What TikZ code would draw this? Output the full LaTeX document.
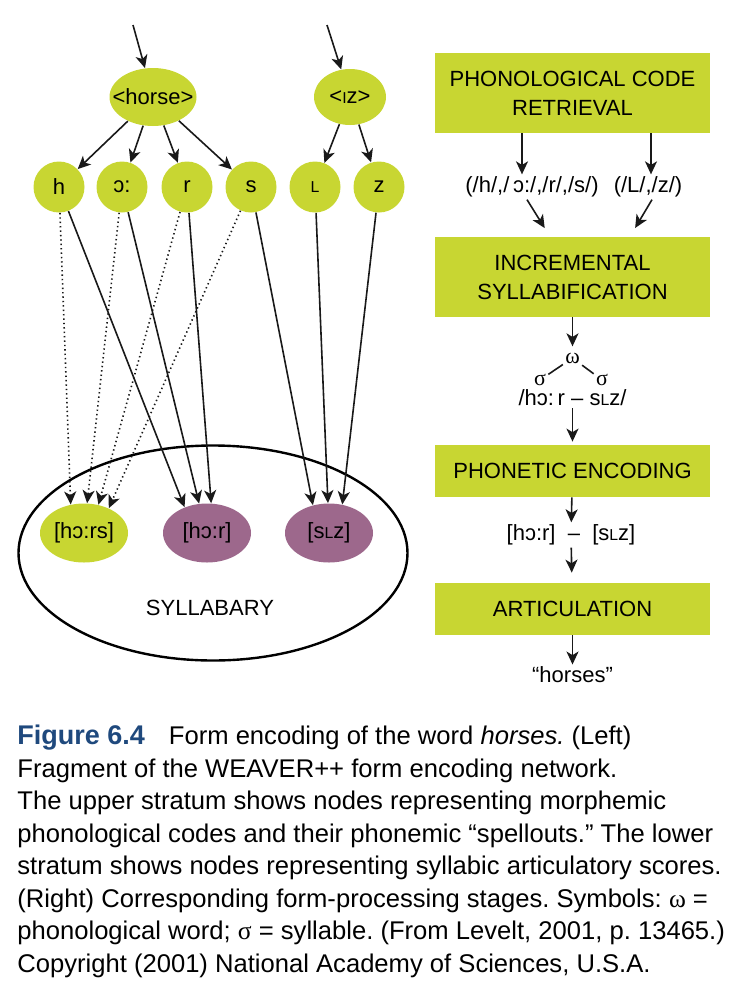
\documentclass[tikz,border=0pt]{standalone}
\usepackage{fontspec}
\setmainfont{Liberation Sans}
\newfontfamily\serifgreek{Liberation Serif}
\usepackage{xcolor}
\usepackage{tikz}
\usetikzlibrary{arrows.meta, positioning, shapes.geometric}

\definecolor{leaf}{RGB}{200,214,50}
\definecolor{plum}{RGB}{157,104,140}
\definecolor{capblue}{RGB}{31,73,125}
\newcommand{\minicap}[1]{{\fontsize{7.9pt}{8pt}\selectfont #1}}
\newcommand{\ovaltext}[1]{\makebox[0pt]{#1}}

\begin{document}
\begin{tikzpicture}[
    x=0.5pt, y=-0.5pt,
    every node/.style={font=\fontsize{11pt}{14.5pt}\selectfont},
    morph/.style={ellipse, fill=leaf, minimum width=43.5pt, minimum height=29pt, inner sep=0pt},
    phon/.style={circle, fill=leaf, minimum size=25.5pt, inner sep=0pt},
    syll/.style={ellipse, minimum width=44pt, minimum height=29.5pt, inner sep=0pt},
    stage/.style={rectangle, fill=leaf, minimum width=137.5pt, minimum height=40pt, align=center, inner sep=0pt},
    word/.style={inner sep=1pt},
    link/.style={-{Stealth[length=6.5pt, width=6pt, inset=1.8pt]}, line width=0.8pt, black!90},
    dotlink/.style={link, dash pattern=on 0.7pt off 1.5pt},
]
\useasboundingbox (0,0) rectangle (730,986);

% Morpheme nodes
\node[morph] (horse) at (153,97) {\ovaltext{<horse>}};
\node[morph, minimum width=36pt, minimum height=28pt] (iz) at (350,97) {\ovaltext{<\minicap{I}z>}};
\coordinate (horsein) at (133,25);
\coordinate (izin) at (327,25);
\draw[link] (horsein) -- (horse);
\draw[link] (izin) -- (iz);

% Phoneme nodes
\node[phon] (h) at (59,187) {h};
\node[phon] (o) at (122,187) {ɔ:};
\node[phon] (r) at (187,187) {r};
\node[phon] (s) at (251,187) {s};
\node[phon] (l) at (315,187) {\minicap{L}};
\node[phon] (z) at (379,187) {z};

\draw[link] (horse) -- (h);
\draw[link] (horse) -- (o);
\draw[link] (horse) -- (r);
\draw[link] (horse) -- (s);
\draw[link] (iz) -- (l);
\draw[link] (iz) -- (z);

% Syllabary
\node[draw, ellipse, line width=1.2pt, minimum width=194.5pt, minimum height=107.5pt] (syllabary) at (213,553) {};
\node (syllabel) at (210,608) {SYLLABARY};
\node[syll, fill=leaf] (hors) at (84,533) {\ovaltext{[hɔ:rs]}};
\node[syll, fill=plum] (hor) at (207,533) {\ovaltext{[hɔ:r]}};
\node[syll, fill=plum] (slz) at (329,533) {\ovaltext{[s\minicap{L}z]}};

% Phonemes to syllable scores
\draw[dotlink] (h) -- (hors.115);
\draw[dotlink] (o) -- (hors.84);
\draw[dotlink] (r) -- (hors.63);
\draw[dotlink] (s) -- (hors.45);
\draw[link] (h) -- (hor.131);
\draw[link] (o) -- (hor.105);
\draw[link] (r) -- (hor.82);
\draw[link] (s) -- (slz.120);
\draw[link] (l) -- (slz.92);
\draw[link] (z) -- (slz.65);

% Processing stages
\node[stage] (retrieval) at (572.5,93) {PHONOLOGICAL CODE\\RETRIEVAL};
\node[word] (codeH) at (532,187) {(/h/,/\,ɔ:/,/r/,/s/)};
\node[word] (codeL) at (648,187) {(/L/,/z/)};
\node[stage] (incremental) at (572.5,277) {INCREMENTAL\\SYLLABIFICATION};
\node[word] (omega) at (572.5,358) {\serifgreek ω};
\node[word] (sigL) at (540,380) {\serifgreek σ};
\node[word] (sigR) at (602,380) {\serifgreek σ};
\node[word] (syllab) at (572.5,398) {/hɔ:\,r -- s\minicap{L}z/};
\node[stage, minimum height=26pt] (phonetic) at (572.5,471) {PHONETIC ENCODING};
\node[word] (scores) at (571,535) {[hɔ:r]\ \ --\ \ [s\minicap{L}z]};
\node[stage, minimum height=26pt] (articulation) at (572.5,609) {ARTICULATION};
\node[word] (output) at (572.5,675) {“horses”};

\draw[link] ([xshift=-5pt]codeH.north |- retrieval.south) -- ([xshift=-5pt]codeH.north);
\draw[link] ([xshift=1.5pt]codeL.north |- retrieval.south) -- ([xshift=1.5pt]codeL.north);
\draw[link, shorten >=5pt] ([xshift=-2.5pt]codeH.south) -- ([xshift=-11.25pt]incremental.north);
\draw[link, shorten >=5pt] ([xshift=2pt]codeL.south) -- ([xshift=28.75pt]incremental.north);
\draw[link, shorten >=2pt] (incremental) -- (omega);
\draw[line width=0.8pt, black!90] (sigL) -- (omega);
\draw[line width=0.8pt, black!90] (omega) -- (sigR);
\draw[link, shorten >=1.5pt] (syllab) -- (phonetic);
\draw[link] (phonetic) -- (scores);
\draw[link, shorten >=5pt] (scores) -- (articulation);
\draw[link] (articulation) -- (output);

% Caption
\node[anchor=north west, align=left, inner sep=0pt, font=\fontsize{12.8pt}{16.25pt}\selectfont\frenchspacing] (caption) at (17,725) {%
{\color{capblue}\fontsize{13.5pt}{16.25pt}\selectfont\bfseries Figure 6.4}\hspace{12pt}Form encoding of the word \textit{horses.} (Left)\\
Fragment of the WEAVER++ form encoding network.\\
The upper stratum shows nodes representing morphemic\\
phonological codes and their phonemic “spellouts.” The lower\\
stratum shows nodes representing syllabic articulatory scores.\\
(Right) Corresponding form-processing stages. Symbols: {\serifgreek ω} =\\
phonological word; {\serifgreek σ} = syllable. (From Levelt, 2001, p. 13465.)\\
Copyright (2001) National Academy of Sciences, U.S.A.};

\end{tikzpicture}
\end{document}
